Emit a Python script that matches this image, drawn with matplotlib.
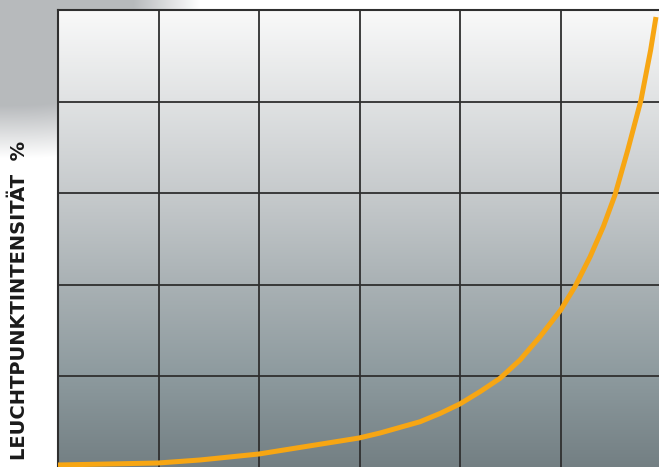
import numpy as np
import matplotlib
matplotlib.use("Agg")
import matplotlib.pyplot as plt
from matplotlib.colors import LinearSegmentedColormap

# data (grid units along x, percent along y)
x_vals = [0.0, 0.995, 1.413, 2.0, 2.995, 3.204, 3.602, 3.801, 4.0, 4.199, 4.398,
          4.597, 4.796, 5.002, 5.144, 5.294, 5.426, 5.542, 5.669, 5.801, 5.897, 5.950]
y_vals = [0.66, 1.09, 1.75, 3.06, 6.55, 7.64, 10.1, 11.9, 14.0, 16.66, 19.58,
          23.58, 28.67, 34.5, 39.6, 46.1, 52.7, 59.6, 69.4, 80.35, 91.27, 98.47]
x_ticks = [0, 1, 2, 3, 4, 5, 6]
y_ticks = [0, 20, 40, 60, 80, 100]
y_label = "LEUCHTPUNKTINTENSITÄT  %"

W, H = 659, 467
fig = plt.figure(figsize=(W / 100, H / 100), dpi=100)
fig.patch.set_facecolor("white")

# decorative background at top-left (gray fade)
bg = fig.add_axes([0, 0, 1, 1], zorder=0)
bg.set_axis_off()
yy, xx = np.mgrid[0:H, 0:W]
d = ((xx / 190.0) ** 3 + (yy / 150.0) ** 3) ** (1 / 3)
alpha = np.clip((1.05 - d) / 0.35, 0, 1)
img = np.ones((H, W, 3))
gray = np.array([0.72, 0.73, 0.74])
img = img * (1 - alpha[..., None]) + gray * alpha[..., None]
bg.imshow(img, extent=[0, W, H, 0], aspect="auto")
bg.set_xlim(0, W)
bg.set_ylim(H, 0)

ax = fig.add_axes([58 / W, (467 - 468) / H, 603 / W, 458 / H], zorder=1)
cmap = LinearSegmentedColormap.from_list(
    "bg", ["#737f83", "#8d9a9e", "#a9b1b4", "#c6cacc", "#e0e2e3", "#f9f9f9"])
grad = np.linspace(0, 1, 256).reshape(-1, 1)
ax.imshow(grad, extent=[0, 6, 0, 100], origin="lower", aspect="auto", cmap=cmap, zorder=0)

ax.set_xlim(0, 6)
ax.set_ylim(0, 100)
ax.set_xticks(x_ticks)
ax.set_yticks(y_ticks)
ax.tick_params(length=0, labelbottom=False, labelleft=False)
ax.grid(True, color="#2f2f2f", linewidth=1.3, zorder=1)
ax.set_axisbelow(False)
for s in ["right", "bottom"]:
    ax.spines[s].set_visible(False)
for s in ["top", "left"]:
    ax.spines[s].set_color("#2f2f2f")
    ax.spines[s].set_linewidth(1.5)

ax.plot(x_vals, y_vals, color="#f7a613", linewidth=3.6, solid_capstyle="butt",
        solid_joinstyle="round", zorder=3)

fig.text(20 / W, 1 - 300 / H, y_label, rotation=90, ha="center", va="center",
         fontsize=14, fontweight="bold", color="#1a1a1a", family="DejaVu Sans")

fig.savefig("out.png", dpi=100)
